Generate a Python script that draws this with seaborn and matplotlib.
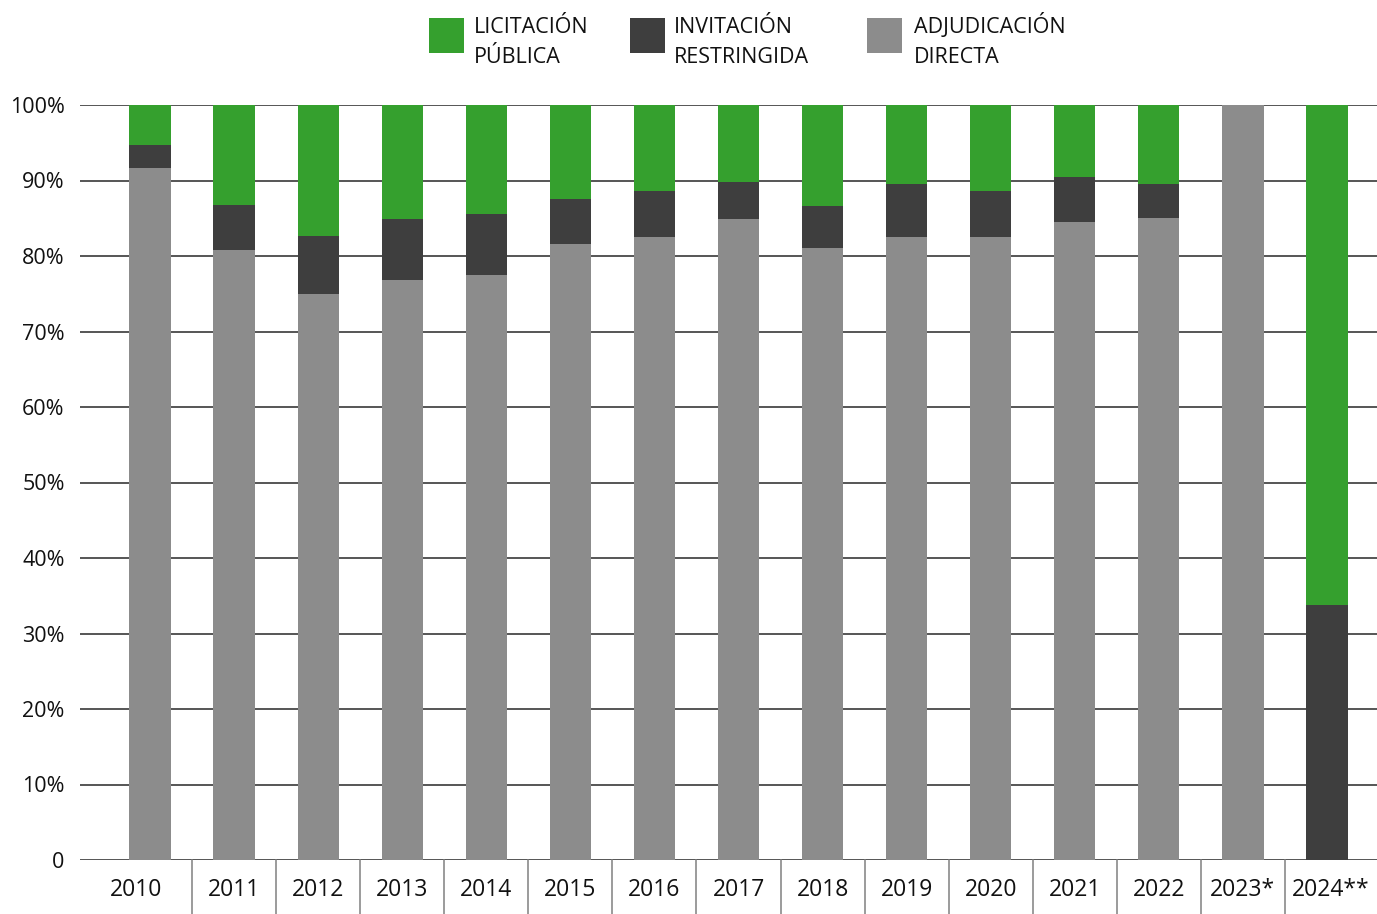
import numpy as np
import pandas as pd
import matplotlib
matplotlib.use("Agg")
import matplotlib.pyplot as plt
import seaborn as sns
from matplotlib.patches import Rectangle

years = ["2010", "2011", "2012", "2013", "2014", "2015", "2016", "2017",
         "2018", "2019", "2020", "2021", "2022", "2023*", "2024**"]
adjudicacion_directa = [91.7, 80.8, 75.0, 76.8, 77.5, 81.6, 82.5, 84.9,
                        81.1, 82.5, 82.5, 84.5, 85.0, 100.0, 0.0]
invitacion_restringida = [3.0, 6.0, 7.6, 8.1, 8.1, 5.9, 6.1, 4.9,
                          5.5, 7.0, 6.1, 6.0, 4.5, 0.0, 33.8]
licitacion_publica = [5.3, 13.2, 17.4, 15.1, 14.4, 12.5, 11.4, 10.2,
                      13.4, 10.5, 11.4, 9.5, 10.5, 0.0, 66.2]

labels = ["LICITACIÓN\nPÚBLICA", "INVITACIÓN\nRESTRINGIDA", "ADJUDICACIÓN\nDIRECTA"]
colors = ["#35a02e", "#3e3e3e", "#8c8c8c"]

sns.set_theme(style="white")
plt.rcParams['font.family'] = ['Open Sans', 'DejaVu Sans']

df = pd.DataFrame({
    "year": years,
    "directa": adjudicacion_directa,
    "restringida": invitacion_restringida,
    "publica": licitacion_publica,
})
df["cum_restringida"] = df["directa"] + df["restringida"]
df["cum_total"] = df["cum_restringida"] + df["publica"]

W, H = 1377, 914
fig = plt.figure(figsize=(W / 100, H / 100), dpi=100)
ax = fig.add_axes([80 / W, 54 / H, 1297 / W, 755 / H])

# horizontal grid behind the bars
for v in range(0, 101, 10):
    ax.axhline(v, color="#555555", lw=1.4, zorder=0)

bw = 0.49
sns.barplot(data=df, x="year", y="cum_total", order=years, color=colors[0],
            width=bw, saturation=1, ax=ax, zorder=2)
sns.barplot(data=df, x="year", y="cum_restringida", order=years, color=colors[1],
            width=bw, saturation=1, ax=ax, zorder=3)
sns.barplot(data=df, x="year", y="directa", order=years, color=colors[2],
            width=bw, saturation=1, ax=ax, zorder=4)
for p in ax.patches:
    p.set_edgecolor("none")

left, right = -0.833, 14.595
ax.set_xlim(left, right)
ax.set_ylim(0, 100)
sns.despine(ax=ax, left=True, bottom=True, top=True, right=True)

# category cells below the axis
bounds = [left] + [i + 0.5 for i in range(14)] + [right]
centers = [(bounds[i] + bounds[i + 1]) / 2 for i in range(15)]
ax.set_xticks(centers)
ax.set_xticklabels(years, fontsize=16.5, color="#111111")
ax.tick_params(axis="x", length=0, pad=13)
for b in bounds[1:-1]:
    ax.plot([b, b], [0, -54 / 755 * 100], color="#8a8a8a", lw=1.2,
            clip_on=False, zorder=1)

ax.set_yticks(range(0, 101, 10))
ax.set_yticklabels(["0"] + [f"{v}%" for v in range(10, 101, 10)],
                   fontsize=15.5, color="#111111")
ax.tick_params(axis="y", length=0, pad=11)
ax.set_xlabel("")
ax.set_ylabel("")

# legend: square swatches with two-line labels
swatch_x = [429, 630, 867]
text_x = [474, 674, 914]
for sx, tx, c, lab in zip(swatch_x, text_x, colors, labels):
    fig.add_artist(Rectangle((sx / W, 1 - 53 / H), 35 / W, 35 / H,
                             transform=fig.transFigure, facecolor=c,
                             edgecolor="none"))
    fig.text(tx / W, 1 - 63 / H, lab, fontsize=15.5, color="#111111",
             ha="left", va="baseline", linespacing=1.55)

fig.savefig("out.png", dpi=100)
